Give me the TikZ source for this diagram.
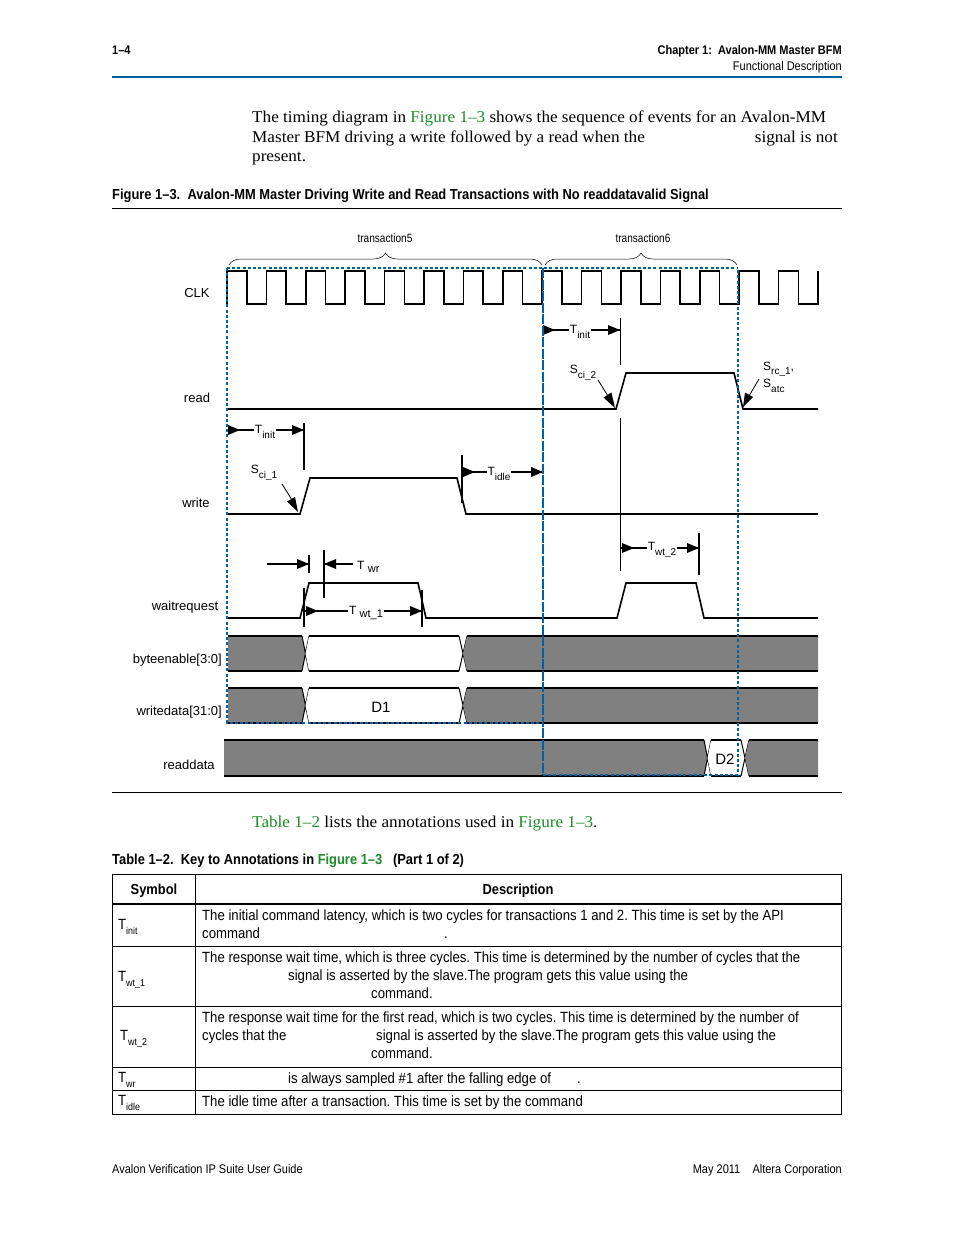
\documentclass[tikz,border=0pt]{standalone}
\usepackage{fontspec}
\setmainfont[FakeStretch=1.04]{Liberation Serif}
\newfontfamily\cnd[FakeStretch=0.84]{Liberation Sans}
\newfontfamily\cndh[FakeStretch=0.88]{Liberation Sans}
\newfontfamily\cndc[FakeStretch=0.89]{Liberation Sans}
\newfontfamily\hv{Liberation Sans}
\usetikzlibrary{decorations.pathreplacing}
\definecolor{altblue}{RGB}{0,98,160}
\definecolor{lnk}{RGB}{30,140,40}
\definecolor{busgray}{RGB}{128,128,128}
\frenchspacing
\newcommand\Tsub[3][10]{#2\raisebox{-0.4em}{\fontsize{#1}{#1}\selectfont #3}}
\newcommand\rtri[2]{\fill (#1,#2) -- ++(-12,-5) -- ++(0,10) -- cycle;}
\newcommand\ltri[2]{\fill (#1,#2) -- ++(12,-5) -- ++(0,10) -- cycle;}
% bus segment: #1 fill, #2 top, #3 bottom, #4 left inner x, #5 left tip x, #6 right inner x, #7 right tip x
\newcommand\seg[7]{%
  \fill[#1] (#4,#2) -- (#6,#2) -- (#7,{(#2+#3)/2}) -- (#6,#3) -- (#4,#3) -- (#5,{(#2+#3)/2}) -- cycle;
  \draw[busline] (#4,#2) -- (#6,#2) (#4,#3) -- (#6,#3);}
% crossing: #1 top, #2 bottom, #3 x1, #4 x2
\newcommand\xing[4]{\draw[xline] (#3,#1) -- (#4,#2) (#3,#2) -- (#4,#1);}
\begin{document}
\frenchspacing
\begin{tikzpicture}[x=1pt,y=-1pt,
  hdr/.style={font=\cndh\bfseries\fontsize{12.5}{14}\selectfont, inner sep=0pt},
  hdrr/.style={font=\cndh\fontsize{12.5}{14}\selectfont, inner sep=0pt},
  body/.style={font=\fontsize{16.5}{20}\selectfont, inner sep=0pt, anchor=base west},
  captxt/.style={font=\cndc\bfseries\fontsize{14.5}{16}\selectfont, inner sep=0pt, anchor=base west},
  sig/.style={font=\hv\fontsize{13}{15}\selectfont, inner sep=0pt},
  ann/.style={font=\hv\fontsize{12}{13}\selectfont, inner sep=1pt, fill=white},
  tl/.style={font=\cnd\fontsize{12}{13}\selectfont, inner sep=0pt},
  tabtxt/.style={font=\cndc\fontsize{14.8}{16}\selectfont, inner sep=0pt, anchor=base west},
  wave/.style={line width=1.6pt, line join=miter},
  al/.style={line width=1.2pt},
  busline/.style={line width=2pt},
  xline/.style={line width=1pt},
  bdot/.style={altblue, line width=1.4pt, dash pattern=on 3pt off 2.2pt},
  bmid/.style={altblue, line width=1.6pt, dash pattern=on 10pt off 1.5pt},
  bracestyle/.style={decorate, decoration={brace, amplitude=12pt}, line width=0.5pt}
]
\useasboundingbox (0,0) rectangle (954,1235);
\fill[white] (0,0) rectangle (954,1235);

% ---------- header ----------
\node[hdr, anchor=base west] (pgno) at (112,54.5) {1–4};
\node[hdr, anchor=base east] (chap) at (842,54.5) {Chapter 1:\ \ Avalon-MM Master BFM};
\node[hdrr, anchor=base east] (sect) at (842,70) {Functional Description};
\draw[altblue, line width=2.5pt] (112,77) -- (842,77);

% ---------- paragraph ----------
\node[body] (p1) at (252,122) {The timing diagram in \textcolor{lnk}{Figure 1–3} shows the sequence of events for an Avalon-MM};
\node[body] (p2) at (252,142) {Master BFM driving a write followed by a read when the};
\node[body, anchor=base east] (p2b) at (838,142) {signal is not};
\node[body] (p3) at (252,161) {present.};

% ---------- figure caption ----------
\node[captxt] (figcap) at (112,199) {Figure 1–3.\ \ Avalon-MM Master Driving Write and Read Transactions with No readdatavalid Signal};
\draw[line width=0.8pt] (112,208) -- (842,208);

% ---------- braces ----------
\draw[bracestyle] (229,265) -- (542,265);
\draw[bracestyle] (545,265) -- (737,265);
\node[tl] (tr5) at (385,238) {transaction5};
\node[tl] (tr6) at (643,238) {transaction6};

% ---------- signal labels ----------
\node[sig] (lclk) at (197,293) {CLK};
\node[sig] (lread) at (197,398) {read};
\node[sig] (lwrite) at (196,503) {write};
\node[sig] (lwait) at (185,607) {waitrequest};
\node[sig, anchor=east] (lbe) at (222,660) {byteenable[3:0]};
\node[sig, anchor=east] (lwd) at (222,712) {writedata[31:0]};
\node[sig] (lrd) at (189,765) {readdata};

% ---------- clock ----------
\draw[wave] (227,304) -- (227,271)
  \foreach \k in {0,...,14} {
    -- ({227+39.4*\k+19.7},271) -- ({227+39.4*\k+19.7},304)
    -- ({227+39.4*(\k+1)},304) -- ({227+39.4*(\k+1)},271)
  };

% ---------- read ----------
\draw[wave] (228,409) -- (616,409) -- (626,373) -- (734,373) -- (743,409) -- (818,409);
\draw[al] (543,330) -- (620,330);
\rtri{555}{330} \rtri{620}{330}
\node[ann] (tinitr) at (580,332) {\Tsub{T}{init}};
\draw[al] (620.5,318) -- (620.5,365);
\draw[al] (620.5,418) -- (620.5,571);
\node[ann, fill=none] (sci2) at (583,373) {\Tsub{S}{ci\_2}};
\draw[line width=0.8pt] (598,380) -- (608,396);
\fill (615,408) -- (603.5,397.5) -- (611.5,392.5) -- cycle;
\node[ann, fill=none, align=left, anchor=west] (src) at (762,377) {\Tsub{S}{rc\_1},\\[1pt]\Tsub{S}{atc}};
\draw[line width=0.8pt] (759,379) -- (749,396);
\fill (743,407) -- (745,392.5) -- (753,397) -- cycle;

% ---------- write ----------
\draw[wave] (228,514) -- (300,514) -- (310,478) -- (457,478) -- (466,514) -- (818,514);
\draw[al] (228,430) -- (304,430);
\rtri{240}{430} \rtri{304}{430}
\node[ann] (tinitw) at (265,432) {\Tsub{T}{init}};
\draw[al] (304,423) -- (304,470);
\node[ann, fill=none] (sci1) at (264,473) {\Tsub{S}{ci\_1}};
\draw[line width=0.8pt] (282,484) -- (292,500);
\fill (298,512) -- (287,501.5) -- (295,497) -- cycle;
\draw[al] (462,455) -- (462,503);
\draw[al] (462,472) -- (543,472);
\rtri{475}{472} \rtri{543}{472}
\node[ann] (tidle) at (499,474) {\Tsub{T}{idle}};

% ---------- waitrequest ----------
\draw[wave] (228,618) -- (300,618) -- (309,583) -- (418,583) -- (426,618)
  -- (617,618) -- (626,583) -- (696,583) -- (704,618) -- (818,618);
% T_wr
\draw[al] (267,564) -- (309,564);
\rtri{309}{564}
\draw[al] (309,555) -- (309,573);
\draw[al] (324,550) -- (324,598);
\draw[al] (324,564) -- (353,564);
\ltri{324}{564}
\node[ann, fill=none, anchor=west] (twr) at (356,567) {T \raisebox{-0.25em}{\fontsize{11}{11}\selectfont wr}};
% T_wt_1
\draw[al] (304,588) -- (304,627);
\draw[al] (422,590) -- (422,627);
\draw[al] (304,611) -- (422,611);
\rtri{318}{611} \rtri{422}{611}
\node[ann] (twt1) at (366,613) {T \raisebox{-0.25em}{\fontsize{11}{11}\selectfont wt\_1}};
% T_wt_2
\draw[al] (699,533) -- (699,575);
\draw[al] (621,548) -- (699,548);
\rtri{634}{548} \rtri{699}{548}
\node[ann] (twt2) at (662,550) {\Tsub{T}{wt\_2}};

% ---------- buses ----------
% byteenable
\seg{busgray}{636}{671}{228}{228}{302}{305.5}
\xing{636}{671}{302}{309}
\seg{white}{636}{671}{309}{305.5}{459}{463}
\xing{636}{671}{459}{467}
\seg{busgray}{636}{671}{467}{463}{818}{818}
% writedata
\seg{busgray}{688}{723}{228}{228}{302}{305.5}
\xing{688}{723}{302}{309}
\seg{white}{688}{723}{309}{305.5}{459}{463}
\xing{688}{723}{459}{467}
\seg{busgray}{688}{723}{467}{463}{818}{818}
\node[sig, font=\hv\fontsize{15}{16}\selectfont] (d1) at (381,707) {D1};
% readdata
\seg{busgray}{740}{776}{224}{224}{704}{707.5}
\xing{740}{776}{704}{711}
\seg{white}{740}{776}{711}{707.5}{741}{745}
\xing{740}{776}{741}{749}
\seg{busgray}{740}{776}{749}{745}{818}{818}
\node[sig, font=\hv\fontsize{15}{16}\selectfont] (d2) at (725,759) {D2};

% ---------- transaction boxes ----------
\draw[bdot] (227,268) -- (738,268);
\draw[bdot] (227,268) -- (227,723) -- (543,723);
\draw[bdot] (543,775) -- (738,775) -- (738,268);
\draw[bmid] (543,268) -- (543,775);

\draw[line width=0.8pt] (112,792) -- (842,792);

% ---------- table intro ----------
\node[body] (tintro) at (252,827) {\textcolor{lnk}{Table 1–2} lists the annotations used in \textcolor{lnk}{Figure 1–3}.};
\node[captxt] (tcap) at (112,864) {Table 1–2.\ \ Key to Annotations in \textcolor{lnk}{Figure 1–3}\ \ \ (Part 1 of 2)};

% ---------- table ----------
\draw[line width=1pt] (112,874) rectangle (841,1114);
\draw[line width=2pt] (112,904) -- (841,904);
\draw[line width=1pt] (112,946) -- (841,946) (112,1006) -- (841,1006)
  (112,1067) -- (841,1067) (112,1090) -- (841,1090);
\draw[line width=1pt] (195,874) -- (195,1114);
\node[captxt, anchor=base] (hsym) at (154,894) {Symbol};
\node[captxt, anchor=base] (hdesc) at (518,894) {Description};

\node[tabtxt] (s1) at (118,929) {\Tsub[10]{T}{init}};
\node[tabtxt] (r1a) at (202,920) {The initial command latency, which is two cycles for transactions 1 and 2. This time is set by the API};
\node[tabtxt] (r1b) at (202,938) {command};
\node[tabtxt] (r1c) at (444,938) {.};

\node[tabtxt] (s2) at (118,981) {\Tsub[10]{T}{wt\_1}};
\node[tabtxt] (r2a) at (202,962) {The response wait time, which is three cycles. This time is determined by the number of cycles that the};
\node[tabtxt] (r2b) at (288,980) {signal is asserted by the slave.The program gets this value using the};
\node[tabtxt] (r2c) at (371,998) {command.};

\node[tabtxt] (s3) at (120,1040) {\Tsub[10]{T}{wt\_2}};
\node[tabtxt] (r3a) at (202,1022) {The response wait time for the first read, which is two cycles. This time is determined by the number of};
\node[tabtxt] (r3b) at (202,1040) {cycles that the};
\node[tabtxt] (r3c) at (376,1040) {signal is asserted by the slave.The program gets this value using the};
\node[tabtxt] (r3d) at (371,1058) {command.};

\node[tabtxt] (s4) at (118,1082) {\Tsub[10]{T}{wr}};
\node[tabtxt] (r4a) at (288,1083) {is always sampled \#1 after the falling edge of};
\node[tabtxt] (r4b) at (577,1083) {.};

\node[tabtxt] (s5) at (118,1105) {\Tsub[10]{T}{idle}};
\node[tabtxt] (r5a) at (202,1106) {The idle time after a transaction. This time is set by the command};

% ---------- footer ----------
\node[hdrr, anchor=base west] (foot1) at (112,1173.5) {Avalon Verification IP Suite User Guide};
\node[hdrr, anchor=base east] (foot2) at (842,1173.5) {May 2011\ \ \ \ Altera Corporation};
\end{tikzpicture}
\end{document}
